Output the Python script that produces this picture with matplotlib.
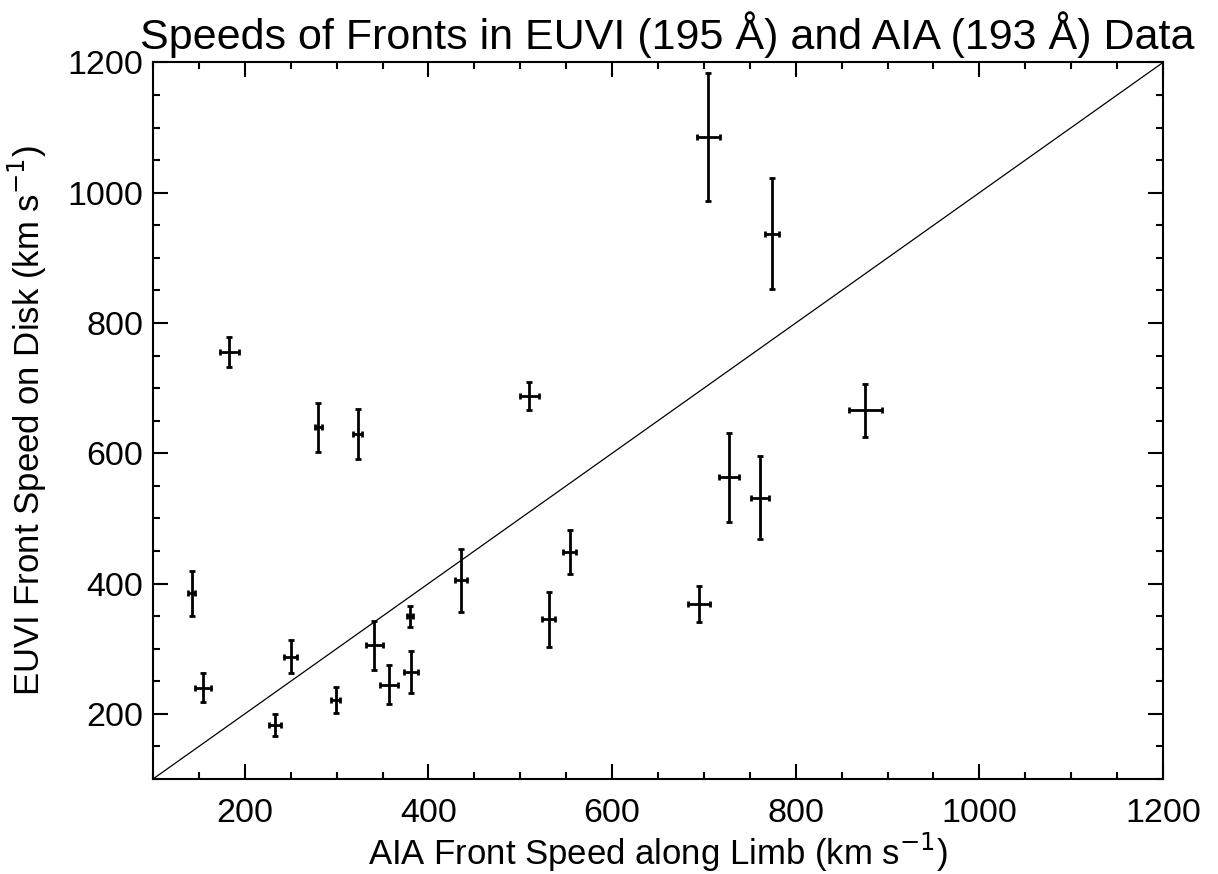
#!/usr/bin/env python3
"""EUVI vs AIA front speeds with error bars, IDL-style axes."""

import numpy as np
import matplotlib
matplotlib.use("Agg")
import matplotlib.pyplot as plt
from matplotlib.ticker import MultipleLocator

# AIA speed along limb (x) and EUVI speed on disk (y), km/s
aia_speed = [142, 155, 183, 233, 250, 280, 299, 323, 341, 357, 380,
             381, 435, 510, 531, 554, 695, 705, 727, 761, 774, 876]
aia_err = [3.6, 8.7, 10.2, 6.4, 7.3, 3.6, 5.1, 5.0, 9.4, 9.4, 3.6,
           7.3, 6.5, 10.5, 6.9, 6.9, 12.0, 12.5, 10.9, 10.2, 7.4, 18.0]
euvi_speed = [385, 240, 755, 183, 288, 640, 222, 630, 305, 245, 350,
              264, 405, 688, 345, 449, 369, 1086, 563, 532, 937, 666]
euvi_err = [35, 22, 23, 17, 26, 38, 20, 38, 37, 30, 16,
            32, 48, 21, 42, 34, 28, 98, 68, 64, 85, 41]

plt.rcParams["font.family"] = ["Liberation Sans", "DejaVu Sans"]

fig = plt.figure(figsize=(12.18, 8.74), dpi=100)
ax = fig.add_axes([0.1256, 0.1087, 0.9548 - 0.1256, 0.9285 - 0.1087])

ax.plot([100, 1200], [100, 1200], color="black", lw=0.9)
ax.errorbar(aia_speed, euvi_speed, xerr=aia_err, yerr=euvi_err, fmt="none",
            ecolor="black", elinewidth=2.0, capsize=2.0, capthick=2.0)

ax.set_xlim(100, 1200)
ax.set_ylim(100, 1200)
ax.xaxis.set_major_locator(MultipleLocator(200))
ax.xaxis.set_minor_locator(MultipleLocator(50))
ax.yaxis.set_major_locator(MultipleLocator(200))
ax.yaxis.set_minor_locator(MultipleLocator(50))
ax.tick_params(which="both", direction="in", top=True, right=True,
               width=1.5, labelsize=24.5, color="black")
ax.tick_params(which="major", length=10.5)
ax.tick_params(which="minor", length=5.3)
ax.tick_params(axis="x", pad=14)
ax.tick_params(axis="y", pad=7)
for s in ax.spines.values():
    s.set_linewidth(1.5)

ax.set_xlabel("AIA Front Speed along Limb (km s$^{-1}$)", fontsize=25, labelpad=1)
ax.set_ylabel("EUVI Front Speed on Disk (km s$^{-1}$)", fontsize=25, labelpad=13)
ax.set_title("Speeds of Fronts in EUVI (195 Å) and AIA (193 Å) Data",
             fontsize=31, pad=10, x=0.509)

fig.savefig("out.png", dpi=100)
